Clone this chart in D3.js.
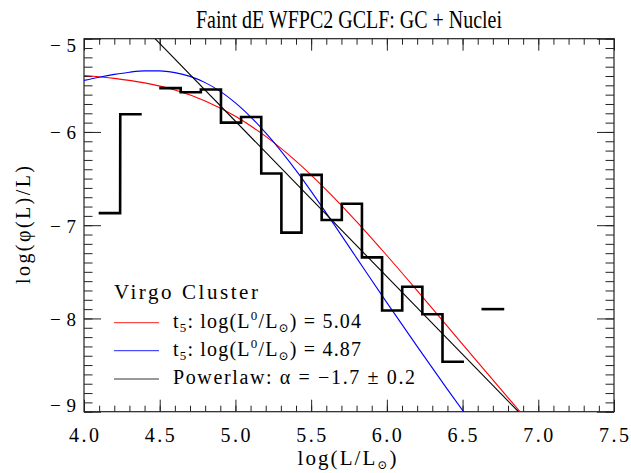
<!DOCTYPE html>
<html>
<head>
<meta charset="utf-8">
<script src="https://cdn.jsdelivr.net/npm/d3@7"></script>
<style>
  body { margin: 0; background: #fff; }
  text { font-family: "Liberation Serif", "DejaVu Serif", serif; fill: #000; }
</style>
</head>
<body>
<div id="container"></div>
<script>
// Histogram bins (bin centres in log L, value in log(phi/L))
var binWidth = 0.133;
var histX = [4.172, 4.306, 4.572, 4.705, 4.838, 4.971, 5.104, 5.237, 5.370, 5.503,
             5.636, 5.769, 5.902, 6.035, 6.168, 6.301, 6.434, 6.700];
var histY = [-6.87, -5.81, -5.53, -5.575, -5.545, -5.90, -5.84, -6.445, -7.08, -6.46,
             -6.945, -6.77, -7.345, -7.915, -7.66, -7.955, -8.465, -7.90];

// t5 fit, log(L0/Lsun) = 5.04 (red)
var redX = [4.0, 4.2, 4.4, 4.6, 4.8, 5.0, 5.2, 5.4, 5.6, 5.8, 6.0, 6.2, 6.4, 6.6, 6.8, 7.0];
var redY = [-5.394, -5.425, -5.474, -5.551, -5.668, -5.832, -6.048, -6.313, -6.621,
            -6.962, -7.325, -7.701, -8.084, -8.468, -8.850, -9.228];

// t5 fit, log(L0/Lsun) = 4.87 (blue)
var blueX = [4.0, 4.1, 4.2, 4.3, 4.4, 4.5, 4.6, 4.7, 4.8, 4.9, 5.0, 5.2, 5.4, 5.6, 5.8,
             6.0, 6.2, 6.4, 6.6];
var blueY = [-5.447, -5.413, -5.383, -5.359, -5.345, -5.345, -5.364, -5.404, -5.471,
             -5.565, -5.688, -6.010, -6.412, -6.87, -7.35, -7.83, -8.30, -8.76, -9.21];

// Power law fit (black)
var powX = [4.469, 6.869];
var powY = [-5.0, -9.0];

// Ticks
var xTicks = [4.0, 4.5, 5.0, 5.5, 6.0, 6.5, 7.0, 7.5];
var xTickLabels = ["4.0", "4.5", "5.0", "5.5", "6.0", "6.5", "7.0", "7.5"];
var yTicks = [-9, -8, -7, -6, -5];
var yTickLabels = ["\u22129", "\u22128", "\u22127", "\u22126", "\u22125"];

var width = 631, height = 473;
var plot = {left: 84, right: 614, top: 38.7, bottom: 411.7};

var svg = d3.select("#container").append("svg")
            .attr("width", width).attr("height", height);

var x = d3.scaleLinear().domain([4.0, 7.5]).range([plot.left, plot.right]);
var y = d3.scaleLinear().domain([-9, -5]).range([plot.bottom, plot.top]);

svg.append("clipPath").attr("id", "clip")
   .append("rect")
   .attr("x", plot.left).attr("y", plot.top)
   .attr("width", plot.right - plot.left).attr("height", plot.bottom - plot.top);

var xMinor = d3.range(40, 76).map(d => d / 10);
var yMinor = d3.range(-90, -49).map(d => d / 10);

// inward ticks on all four sides
function ticks(axis, vals, size, tr) {
  var g = svg.append("g").attr("transform", tr)
             .call(axis.tickValues(vals).tickSize(-size).tickFormat(""));
  g.select(".domain").remove();
  g.selectAll("line").attr("stroke", "#222").attr("stroke-width", 1);
}
ticks(d3.axisBottom(x), xMinor, 6, "translate(0," + plot.bottom + ")");
ticks(d3.axisBottom(x), xTicks, 12, "translate(0," + plot.bottom + ")");
ticks(d3.axisTop(x), xMinor, 6, "translate(0," + plot.top + ")");
ticks(d3.axisTop(x), xTicks, 12, "translate(0," + plot.top + ")");
ticks(d3.axisLeft(y), yMinor, 8.5, "translate(" + plot.left + ",0)");
ticks(d3.axisLeft(y), yTicks, 17, "translate(" + plot.left + ",0)");
ticks(d3.axisRight(y), yMinor, 8.5, "translate(" + plot.right + ",0)");
ticks(d3.axisRight(y), yTicks, 17, "translate(" + plot.right + ",0)");

svg.append("rect")
   .attr("x", plot.left).attr("y", plot.top)
   .attr("width", plot.right - plot.left).attr("height", plot.bottom - plot.top)
   .attr("fill", "none").attr("stroke", "#222").attr("stroke-width", 1.2);

// tick labels
svg.selectAll(".xlab").data(xTicks).enter().append("text")
   .attr("x", d => x(d)).attr("y", 442)
   .attr("text-anchor", "middle").attr("font-size", 20)
   .attr("textLength", 30).attr("lengthAdjust", "spacing")
   .text((d, i) => xTickLabels[i]);

svg.selectAll(".ylab").data(yTicks).enter().append("text")
   .attr("x", 76)
   .attr("y", (d, i) => i == 0 ? plot.bottom : (i == yTicks.length - 1 ? y(d) + 13.6 : y(d) + 7.3))
   .attr("text-anchor", "end").attr("font-size", 19)
   .attr("textLength", 26).attr("lengthAdjust", "spacing")
   .text((d, i) => yTickLabels[i]);

// curves
var line = d3.line().x(d => x(d[0])).y(d => y(d[1]));
var curvesG = svg.append("g").attr("clip-path", "url(#clip)");

curvesG.append("path")
   .attr("d", line.curve(d3.curveMonotoneX)(d3.zip(redX, redY)))
   .attr("fill", "none").attr("stroke", "#ff0000").attr("stroke-width", 1.1);
curvesG.append("path")
   .attr("d", line.curve(d3.curveMonotoneX)(d3.zip(blueX, blueY)))
   .attr("fill", "none").attr("stroke", "#0000ff").attr("stroke-width", 1.1);
curvesG.append("path")
   .attr("d", line.curve(d3.curveLinear)(d3.zip(powX, powY)))
   .attr("fill", "none").attr("stroke", "#000").attr("stroke-width", 1.1);

// histogram: contiguous bins drawn as one stepped line
var groups = [];
histX.forEach(function(c, i) {
  var pts = [[c - binWidth / 2, histY[i]], [c + binWidth / 2, histY[i]]];
  if (i > 0 && Math.abs(c - histX[i - 1] - binWidth) < binWidth / 3) {
    groups[groups.length - 1] = groups[groups.length - 1].concat(pts);
  } else {
    groups.push(pts);
  }
});
svg.append("g").selectAll("path").data(groups).enter().append("path")
   .attr("d", d => d3.line().x(p => x(p[0])).y(p => y(p[1]))(d))
   .attr("fill", "none").attr("stroke", "#000").attr("stroke-width", 2.6)
   .attr("stroke-linejoin", "miter").attr("stroke-linecap", "square");

// legend
var legColors = ["#ff2020", "#2020ff", "#333"];
var legY = [322.7, 350.7, 379];
svg.append("text").attr("x", 114).attr("y", 299.3).attr("font-size", 21)
   .attr("textLength", 144).attr("lengthAdjust", "spacing").text("Virgo Cluster");

legColors.forEach(function(c, i) {
  svg.append("line").attr("x1", 114).attr("x2", 159)
     .attr("y1", legY[i]).attr("y2", legY[i])
     .attr("stroke", c).attr("stroke-width", 1);
});

function t5Label(yb, val) {
  var t = svg.append("text").attr("x", 173).attr("y", yb).attr("font-size", 20)
             .attr("textLength", 188).attr("lengthAdjust", "spacing");
  t.append("tspan").text("t");
  t.append("tspan").attr("font-size", 13).attr("dy", 4).text("5");
  t.append("tspan").attr("dy", -4).text(": log(L");
  t.append("tspan").attr("font-size", 13).attr("dy", -8).text("0");
  t.append("tspan").attr("dy", 8).text("/L");
  t.append("tspan").attr("font-size", 12).attr("dy", 4).text("\u2299");
  t.append("tspan").attr("dy", -4).text(") = " + val);
}
t5Label(328, "5.04");
t5Label(356, "4.87");

svg.append("text").attr("x", 173).attr("y", 383.5).attr("font-size", 20)
   .attr("textLength", 242).attr("lengthAdjust", "spacing")
   .text("Powerlaw: \u03b1 = \u22121.7 \u00b1 0.2");

// titles
svg.append("text").attr("x", 349).attr("y", 28).attr("text-anchor", "middle")
   .attr("font-size", 25).attr("textLength", 306).attr("lengthAdjust", "spacingAndGlyphs")
   .text("Faint dE WFPC2 GCLF: GC + Nuclei");

var xt = svg.append("text").attr("x", 347).attr("y", 465).attr("text-anchor", "middle")
   .attr("font-size", 21).attr("textLength", 99).attr("lengthAdjust", "spacing");
xt.append("tspan").text("log(L/L");
xt.append("tspan").attr("font-size", 12).attr("dy", 4).text("\u2299");
xt.append("tspan").attr("dy", -4).text(")");

svg.append("text").attr("transform", "translate(29.5,225) rotate(-90)")
   .attr("text-anchor", "middle").attr("font-size", 20)
   .attr("textLength", 118).attr("lengthAdjust", "spacing")
   .text("log(\u03c6(L)/L)");
</script>
</body>
</html>
